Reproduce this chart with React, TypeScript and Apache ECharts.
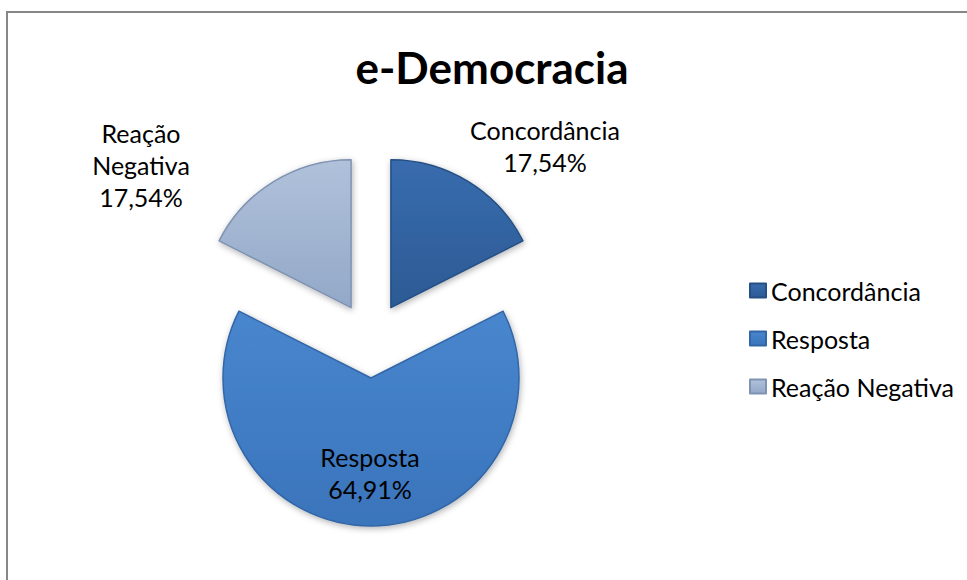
import React, { useEffect, useRef } from "react";
import * as echarts from "echarts";

const categories = ["Concordância", "Resposta", "Reação Negativa"];
const values = [10, 37, 10];
const titleText = "e-Democracia";

const topColors = ["#386cae", "#4886ce", "#b0c1da"];
const bottomColors = ["#2c5a94", "#3a74bb", "#93a8c8"];
const borderColors = ["#264f83", "#3366a6", "#7f93b3"];

const FONT = "Lato, 'Noto Sans', sans-serif";

export default function App() {
  const ref = useRef<HTMLDivElement>(null);
  useEffect(() => {
    if (!ref.current) return;
    const chart = echarts.init(ref.current, undefined, { renderer: "svg" });
    const total = values.reduce((a, b) => a + b, 0);
    const labelPos: [number, number][] = [
      [545, 146],
      [370, 473],
      [141, 165],
    ];
    const data = categories.map((name, i) => ({
      name,
      value: values[i],
      selected: true,
      itemStyle: {
        color: new echarts.graphic.LinearGradient(0, 0, 0, 1, [
          { offset: 0, color: topColors[i] },
          { offset: 1, color: bottomColors[i] },
        ]),
        borderColor: borderColors[i],
        borderWidth: 1.5,
      },
    }));
    const labelData = categories.map((name, i) => ({ name, value: values[i] }));
    chart.setOption({
      animation: false,
      backgroundColor: "#ffffff",
      title: {
        text: titleText,
        left: 487,
        top: 40,
        textAlign: "center",
        textStyle: {
          fontFamily: FONT,
          fontWeight: "bold",
          fontSize: 44,
          color: "#000000",
        },
      },
      legend: {
        orient: "vertical",
        left: 749,
        top: 278,
        padding: 0,
        itemWidth: 16,
        itemHeight: 14,
        itemGap: 23,
        icon: "rect",
        selectedMode: false,
        textStyle: {
          fontFamily: FONT,
          fontSize: 25,
          lineHeight: 24,
          color: "#000000",
        },
        data: categories,
      },
      graphic: [
        {
          type: "rect",
          shape: { x: 7, y: 12, width: 1000, height: 600 },
          style: { fill: "none", stroke: "#878787", lineWidth: 2 },
          silent: true,
        },
      ],
      series: [
        {
          type: "pie",
          center: [371, 340],
          radius: [0, 148],
          startAngle: 90,
          clockwise: true,
          selectedMode: "multiple",
          selectedOffset: 38,
          silent: true,
          emphasis: { disabled: true },
          itemStyle: {
            shadowBlur: 6,
            shadowColor: "rgba(0,0,0,0.3)",
            shadowOffsetX: 1,
            shadowOffsetY: 2,
          },
          label: { show: false },
          labelLine: { show: false },
          data,
        },
        {
          type: "pie",
          center: [371, 340],
          radius: [0, 148],
          startAngle: 90,
          clockwise: true,
          silent: true,
          emphasis: { disabled: true },
          itemStyle: { color: "rgba(0,0,0,0)", borderWidth: 0 },
          label: {
            show: true,
            position: "outside",
            fontFamily: FONT,
            fontSize: 25,
            lineHeight: 32,
            color: "#000000",
            align: "center",
            formatter: (p: any) => {
              const pct =
                ((p.value / total) * 100).toFixed(2).replace(".", ",") + "%";
              const nm = p.dataIndex === 2 ? p.name.replace(" ", "\n") : p.name;
              return nm + "\n" + pct;
            },
          },
          labelLine: { show: false },
          labelLayout: (params: any) => {
            const pos = labelPos[params.dataIndex];
            return {
              x: pos[0],
              y: pos[1],
              align: "center",
              verticalAlign: "middle",
            };
          },
          data: labelData,
        },
      ],
    });
    return () => chart.dispose();
  }, []);
  return (
    <div
      ref={ref}
      style={{ position: "fixed", left: 0, top: 0, width: 967, height: 580 }}
    />
  );
}
